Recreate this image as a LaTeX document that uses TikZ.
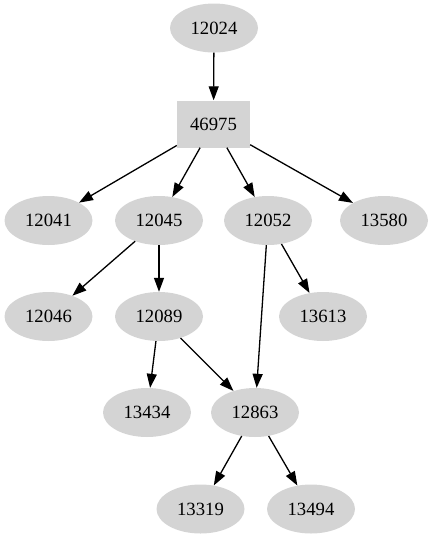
\documentclass[tikz,border=0pt]{standalone}
\usepackage{fontspec}
\setmainfont{Liberation Serif}
\usetikzlibrary{shapes.geometric,arrows.meta}
\begin{document}
\begin{tikzpicture}[x=1pt,y=-1pt,
  every node/.style={font=\fontsize{18.7}{22}\selectfont, fill=black!17, inner sep=0pt},
  ell/.style={ellipse, minimum width=88pt, minimum height=49pt},
  boxn/.style={rectangle, minimum width=73pt, minimum height=47pt},
  edge/.style={draw=black, line width=1.3pt, -{Triangle[length=14pt,width=10pt]}}]
\useasboundingbox (0,0) rectangle (429,539);
\node[ell] (n12024) at (214,28) {12024};
\node[boxn] (n46975) at (213.5,124) {46975};
\node[ell] (n12041) at (48.5,220.5) {12041};
\node[ell] (n12045) at (159,220.5) {12045};
\node[ell] (n12052) at (268,220.5) {12052};
\node[ell] (n13580) at (384,220.5) {13580};
\node[ell] (n12046) at (48.5,316.5) {12046};
\node[ell] (n12089) at (159,316.5) {12089};
\node[ell] (n13613) at (323,316.5) {13613};
\node[ell] (n13434) at (147,412.5) {13434};
\node[ell] (n12863) at (255,412.5) {12863};
\node[ell] (n13319) at (200.5,509) {13319};
\node[ell] (n13494) at (311,509) {13494};
\draw[edge] (n12024) -- (n46975);
\draw[edge] (n46975) -- (n12041);
\draw[edge] (n46975) -- (n12045);
\draw[edge] (n46975) -- (n12052);
\draw[edge] (n46975) -- (n13580);
\draw[edge] (n12045) -- (n12046);
\draw[edge] (n12045) -- (n12089);
\draw[edge] (n12052) -- (n13613);
\draw[edge] (n12052) -- (n12863);
\draw[edge] (n12089) -- (n13434);
\draw[edge] (n12089) -- (n12863);
\draw[edge] (n12863) -- (n13319);
\draw[edge] (n12863) -- (n13494);
\end{tikzpicture}
\end{document}
